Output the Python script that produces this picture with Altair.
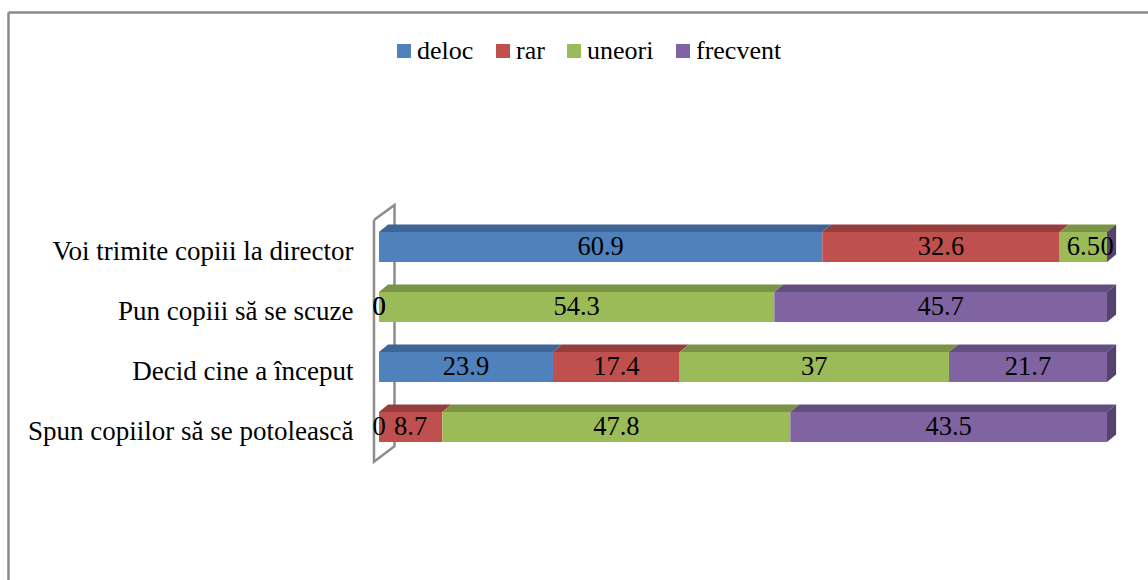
import json
import altair as alt
import pandas as pd

# --- data -------------------------------------------------------------
categories = [
    "Voi trimite copiii la director",
    "Pun copiii să se scuze",
    "Decid cine a început",
    "Spun copiilor să se potolească",
]
series = ["deloc", "rar", "uneori", "frecvent"]
deloc = [60.9, 0, 23.9, 0]
rar = [32.6, 0, 17.4, 8.7]
uneori = [6.5, 54.3, 37, 47.8]
frecvent = [0, 45.7, 21.7, 43.5]

front_colors = ["#4F81BD", "#C0504D", "#9BBB59", "#8064A2"]
top_colors = ["#3E6595", "#963E3C", "#7A9346", "#634E80"]
side_color = "#54436C"

FONT = "Liberation Serif"

# 3D bar geometry, in data units (x: percent, y: row index)
HALF = 0.25      # half height of the front face
DEPTH_Y = 0.125  # rise of the top face
DEPTH_X = 1.25   # shift of the back edge

values = [deloc, rar, uneori, frecvent]

front_rows, face_rows, label_rows, side_rows = [], [], [], []
for i, cat in enumerate(categories):
    start = 0.0
    for s, name in enumerate(series):
        v = values[s][i]
        a, b = start, start + v
        front_rows.append({"series": name, "a": a, "b": b,
                           "y0": i - HALF, "y1": i + HALF})
        label_rows.append({"xm": (a + b) / 2, "row": i, "txt": f"{v:g}"})
        if v > 0:
            yf, yb = i - HALF, i - HALF - DEPTH_Y
            key = f"{i}-{s}"
            for px, lo, hi in [(a, yf, yf), (a + DEPTH_X, yf, yb),
                               (b, yf, yb), (b + DEPTH_X, yb, yb)]:
                face_rows.append({"key": key, "px": px, "lo": lo, "hi": hi,
                                  "fill": top_colors[s]})
        start = b
    # right-hand side face of the last segment
    for px, lo, hi in [(start, i + HALF, i - HALF),
                       (start + DEPTH_X, i + HALF - DEPTH_Y, i - HALF - DEPTH_Y)]:
        side_rows.append({"key": f"side-{i}", "px": px, "lo": lo, "hi": hi,
                          "fill": side_color})

# back wall of the 3D plot box
wall_x = [-0.69, 2.13, 2.13, -0.69, -0.69]
wall_y = [-0.45, -0.70, 3.32, 3.58, -0.45]
wall = pd.DataFrame({"wx": wall_x, "wy": wall_y, "o": range(len(wall_x))})

front = pd.DataFrame(front_rows)
faces = pd.DataFrame(face_rows + side_rows)
labels = pd.DataFrame(label_rows)

xs = alt.Scale(domain=[0, 100], nice=False, zero=False)
ys = alt.Scale(domain=[-0.5, 3.5], nice=False, zero=False, reverse=True)

label_expr = json.dumps(categories, ensure_ascii=False) + "[datum.value]"
y_axis = alt.Axis(
    values=[0, 1, 2, 3],
    labelExpr=label_expr,
    ticks=False,
    domain=False,
    grid=False,
    title=None,
    labelFont=FONT,
    labelFontSize=27,
    labelColor="black",
    labelPadding=26,
    labelOffset=4,
    labelLimit=0,
)

frame = alt.Chart(pd.DataFrame({"k": [0]})).mark_rule(
    color="#8a8a8a", strokeWidth=2.5
)
frame_top = frame.encode(x=alt.value(-370.5), x2=alt.value(790), y=alt.value(-204.5))
frame_left = frame.encode(x=alt.value(-370.5), y=alt.value(-204.5), y2=alt.value(400))

wall_layer = alt.Chart(wall).mark_line(color="#8c8c8c", strokeWidth=2.5).encode(
    x=alt.X("wx:Q", scale=xs, axis=None),
    y=alt.Y("wy:Q", scale=ys, axis=y_axis),
    order="o:O",
)

bars = alt.Chart(front).mark_rect().encode(
    x=alt.X("a:Q", scale=xs, axis=None),
    x2="b:Q",
    y=alt.Y("y0:Q", scale=ys, axis=y_axis),
    y2="y1:Q",
    color=alt.Color(
        "series:N",
        scale=alt.Scale(domain=series, range=front_colors),
        legend=alt.Legend(
            orient="none",
            direction="horizontal",
            legendX=12,
            legendY=-179,
            title=None,
            symbolType="square",
            symbolSize=196,
            symbolStrokeWidth=0,
            symbolOpacity=1,
            labelFont=FONT,
            labelFontSize=26,
            labelColor="black",
            labelOffset=0,
            columnPadding=16,
            padding=0,
        ),
    ),
)

faces_layer = alt.Chart(faces).mark_area(orient="vertical", interpolate="linear").encode(
    x=alt.X("px:Q", scale=xs, axis=None),
    y=alt.Y("lo:Q", scale=ys, axis=y_axis),
    y2="hi:Q",
    fill=alt.Fill("fill:N", scale=None),
    detail="key:N",
)

text_layer = alt.Chart(labels).mark_text(
    font=FONT, fontSize=26.5, color="black", baseline="middle", align="center"
).encode(
    x=alt.X("xm:Q", scale=xs, axis=None),
    y=alt.Y("row:Q", scale=ys, axis=y_axis),
    text="txt:N",
)

chart = alt.layer(
    frame_top, frame_left, wall_layer, faces_layer, bars, text_layer
).properties(
    width=728,
    height=240,
    autosize=alt.AutoSizeParams(type="none"),
    padding={"left": 379, "top": 217, "right": 41, "bottom": 123},
    background="white",
).configure(
    font=FONT
).configure_legend(
    labelFont=FONT
).configure_view(stroke=None)

chart.save("out.html", embed_options={"renderer": "svg", "actions": False})
